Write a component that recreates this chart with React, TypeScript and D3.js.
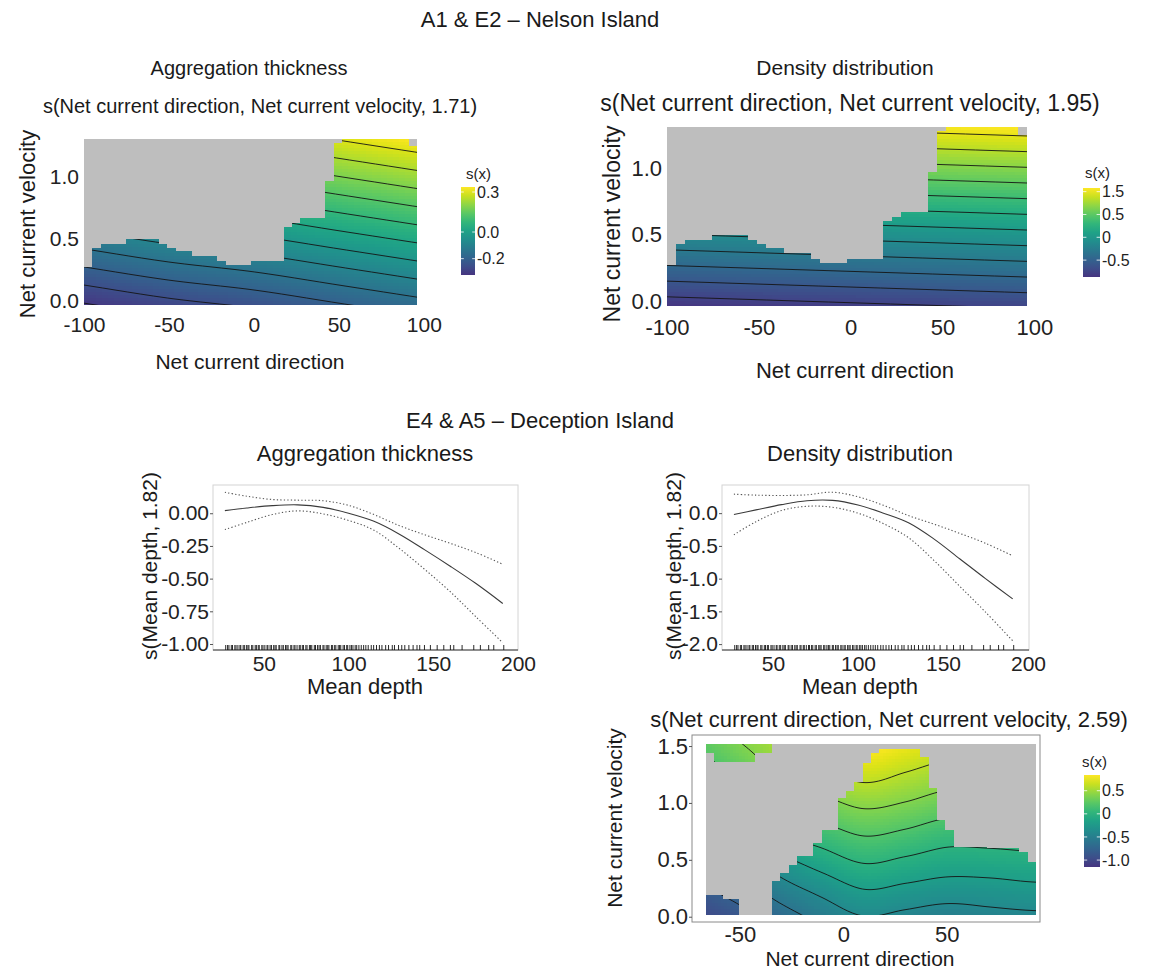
import React, { useEffect, useRef } from "react";
import * as d3 from "d3";

const FONT = "'Liberation Sans', Arial, sans-serif";

// ---------- A1 & E2 – Nelson Island ----------
// fitted surface read at a coarse grid (rows = velocity, cols = direction)
const nelsonGridX = [-100, -50, 0, 50, 100];
const nelsonGridY = [-0.1, 0.3, 0.7, 1.1, 1.5];
const thicknessSurface = [
  [-0.34, -0.3, -0.27, -0.23, -0.19],
  [-0.19, -0.15, -0.12, -0.08, -0.04],
  [-0.04, 0.0, 0.03, 0.07, 0.11],
  [0.11, 0.15, 0.18, 0.22, 0.26],
  [0.26, 0.3, 0.33, 0.37, 0.41],
];
const densitySurface = [
  [-0.94, -0.91, -0.88, -0.85, -0.82],
  [-0.4, -0.37, -0.34, -0.31, -0.28],
  [0.14, 0.17, 0.2, 0.23, 0.26],
  [0.68, 0.71, 0.74, 0.77, 0.8],
  [1.22, 1.25, 1.28, 1.31, 1.34],
];
// highest sampled velocity in each of the 40 direction bins
const nelsonTop = [
  0.27, 0.43, 0.46, 0.46, 0.46, 0.5, 0.5, 0.5, 0.5, 0.46, 0.43, 0.4, 0.4, 0.36,
  0.36, 0.36, 0.32, 0.29, 0.29, 0.29, 0.32, 0.32, 0.32, 0.32, 0.6, 0.63, 0.67,
  0.67, 0.67, 0.97, 1.28, 1.4, 1.4, 1.4, 1.4, 1.4, 1.4, 1.4, 1.4, 1.25,
];
const nelsonDirRange = [-100, 96];
const nelsonVelRange = [-0.035, 1.31];
const thicknessLevels = [-0.31, -0.255, -0.2, -0.145, -0.09, -0.035, 0.02, 0.075, 0.13, 0.185, 0.24, 0.295];
const densityLevels = [-0.918, -0.759, -0.6, -0.441, -0.282, -0.123, 0.036, 0.195, 0.354, 0.513, 0.672, 0.831, 0.99];
const thicknessLegendTicks = [-0.2, 0.0, 0.3];
const thicknessLegendText = ["-0.2", "0.0", "0.3"];
const densityLegendTicks = [-0.5, 0, 0.5, 1.0];
const densityLegendText = ["-0.5", "0", "0.5", "1.5"];

// ---------- E4 & A5 – Deception Island ----------
const depthGrid = [27, 40, 55, 70, 85, 100, 115, 130, 145, 160, 175, 191];
const thickFit = [0.02, 0.04, 0.058, 0.064, 0.045, 0.0, -0.062, -0.16, -0.28, -0.405, -0.536, -0.69];
const thickUpper = [0.16, 0.13, 0.105, 0.1, 0.096, 0.06, -0.01, -0.095, -0.165, -0.23, -0.3, -0.39];
const thickLower = [-0.125, -0.07, -0.01, 0.018, -0.005, -0.055, -0.13, -0.27, -0.43, -0.6, -0.79, -0.99];
const densFit = [-0.02, 0.05, 0.13, 0.19, 0.195, 0.125, 0.0, -0.15, -0.4, -0.7, -1.0, -1.31];
const densUpper = [0.29, 0.275, 0.27, 0.28, 0.32, 0.25, 0.12, -0.04, -0.17, -0.31, -0.46, -0.65];
const densLower = [-0.33, -0.13, 0.04, 0.105, 0.09, 0.0, -0.16, -0.38, -0.73, -1.12, -1.51, -1.95];
const depthRug = [
  27.5, 28.6, 29.4, 30.8, 31.5, 32.9, 33.6, 34.7, 35.9, 36.4, 37.8, 38.5, 39.7,
  40.6, 41.2, 42.8, 43.5, 44.9, 45.6, 46.7, 47.3, 48.8, 49.5, 50.6, 51.9, 52.4,
  53.7, 54.5, 55.8, 56.6, 57.3, 58.9, 59.4, 60.7, 61.5, 62.8, 63.6, 64.3, 65.9,
  66.5, 67.8, 68.4, 69.6, 70.9, 71.5, 72.7, 73.4, 74.8, 75.5, 76.9, 77.6, 78.3,
  79.8, 80.5, 81.7, 82.6, 83.4, 84.9, 85.5, 86.8, 87.7, 88.4, 89.9, 90.6, 91.8,
  92.5, 93.9, 94.7, 95.4, 96.8, 97.6, 98.9, 99.5, 100.8, 101.7, 102.6, 103.9,
  104.8, 106.1, 107.5, 108.9, 110.2, 111.6, 113.4, 114.8, 116.5, 118.2, 119.7,
  121.9, 123.6, 125.8, 127.1, 129.5, 131.4, 133.2, 135.6, 138.1, 140.4, 142.0,
  144.8, 148.3, 152.3, 156.2, 160.1, 162.1, 167.0, 173.9, 177.8, 182.7, 185.7, 191.6,
];

const deceptionGridX = [-70, -50, -30, -10, 10, 30, 50, 70, 90, 110];
const deceptionGridY = [-0.03, 0.23, 0.48, 0.74, 0.99, 1.25, 1.5, 1.75];
const deceptionSurface = [
  [-1.02, -0.9, -0.72, -0.56, -0.43, -0.48, -0.53, -0.49, -0.47, -0.46],
  [-0.85, -0.7, -0.5, -0.346, -0.21, -0.255, -0.3, -0.29, -0.26, -0.25],
  [-0.62, -0.48, -0.27, -0.11, 0.01, -0.04, -0.096, -0.09, -0.07, -0.06],
  [-0.38, -0.2, 0.03, 0.124, 0.225, 0.175, 0.096, 0.1, 0.12, 0.13],
  [-0.1, 0.05, 0.28, 0.34, 0.435, 0.385, 0.305, 0.29, 0.31, 0.32],
  [0.08, 0.22, 0.45, 0.556, 0.66, 0.585, 0.504, 0.48, 0.5, 0.51],
  [0.22, 0.38, 0.55, 0.77, 0.86, 0.78, 0.69, 0.66, 0.68, 0.69],
  [0.35, 0.5, 0.65, 0.96, 1.05, 0.97, 0.87, 0.84, 0.86, 0.87],
];
// sampled region: [direction from, direction to, velocity from, velocity to]
const deceptionCells = [
  [-66.4, -34.5, 1.436, 1.52],
  [-62.4, -42.5, 1.362, 1.436],
  [-66.4, -58.4, 0.015, 0.193],
  [-58.4, -50.4, 0.015, 0.155],
  [-34.5, -30.5, 0.015, 0.31],
  [-30.5, -26.5, 0.015, 0.38],
  [-26.5, -22.5, 0.015, 0.456],
  [-22.5, -14.5, 0.015, 0.53],
  [-14.5, -10.5, 0.015, 0.646],
  [-10.5, -2.6, 0.015, 0.763],
  [-2.6, 1.4, 0.015, 1.04],
  [1.4, 5.4, 0.015, 1.108],
  [5.4, 9.4, 0.015, 1.187],
  [9.4, 13.4, 0.015, 1.348],
  [13.4, 17.4, 0.015, 1.436],
  [17.4, 37.3, 0.015, 1.47],
  [37.3, 41.3, 0.015, 1.406],
  [41.3, 45.3, 0.015, 1.129],
  [45.3, 49.3, 0.015, 0.85],
  [49.3, 53.3, 0.015, 0.763],
  [53.3, 69.3, 0.015, 0.611],
  [69.3, 85.2, 0.015, 0.6],
  [85.2, 89.2, 0.015, 0.57],
  [89.2, 93.2, 0.015, 0.485],
];
const deceptionDirRange = [-66.4, 93.2];
const deceptionVelRange = [0.015, 1.518];
const deceptionLevels = [-1.0, -0.8, -0.6, -0.4, -0.2, 0, 0.2, 0.4, 0.6];
const deceptionLegendTicks = [-1.0, -0.5, 0, 0.5];
const deceptionLegendText = ["-1.0", "-0.5", "0", "0.5"];

const viridis = (t: number) => d3.interpolateViridis(0.15 + 0.85 * Math.max(0, Math.min(1, t)));

function makeSampler(gx: number[], gy: number[], s: number[][]) {
  const nx = gx.length, ny = gy.length;
  const ix = d3.scaleLinear().domain(gx).range(d3.range(nx));
  const iy = d3.scaleLinear().domain(gy).range(d3.range(ny));
  const val = (i: number, j: number) => {
    const ci = Math.max(0, Math.min(nx - 1, i));
    const cj = Math.max(0, Math.min(ny - 1, j));
    let v = s[cj][ci];
    if (i !== ci) {
      const k = i < 0 ? 1 : nx - 2;
      v += ((i - ci) * (s[cj][ci] - s[cj][k])) / (ci - k);
    }
    if (j !== cj) {
      const k = j < 0 ? 1 : ny - 2;
      v += ((j - cj) * (s[cj][ci] - s[k][ci])) / (cj - k);
    }
    return v;
  };
  const cr = (p0: number, p1: number, p2: number, p3: number, t: number) =>
    0.5 * (2 * p1 + (-p0 + p2) * t + (2 * p0 - 5 * p1 + 4 * p2 - p3) * t * t + (-p0 + 3 * p1 - 3 * p2 + p3) * t * t * t);
  return (x: number, y: number) => {
    const fx = ix(x), fy = iy(y);
    const i0 = Math.max(0, Math.min(nx - 2, Math.floor(fx)));
    const j0 = Math.max(0, Math.min(ny - 2, Math.floor(fy)));
    const tx = fx - i0, ty = fy - j0;
    const rows = [-1, 0, 1, 2].map((dj) =>
      cr(val(i0 - 1, j0 + dj), val(i0, j0 + dj), val(i0 + 1, j0 + dj), val(i0 + 2, j0 + dj), tx)
    );
    return cr(rows[0], rows[1], rows[2], rows[3], ty);
  };
}

function drawHeat(svg: any, id: string, o: any) {
  const x = d3.scaleLinear().domain(o.xRange).range([o.left, o.right]);
  const y = d3.scaleLinear().domain(o.yRange).range([o.bottom, o.top]);
  const norm = d3.scaleLinear().domain(o.colorDomain).range([0, 1]);
  const sample = makeSampler(o.gridX, o.gridY, o.surface);

  svg.append("rect")
    .attr("x", o.left).attr("y", o.top)
    .attr("width", o.right - o.left).attr("height", o.bottom - o.top)
    .attr("fill", "#bebebe");

  const clip = svg.append("clipPath").attr("id", id);
  o.spans.forEach(([x0, x1, ylo, yhi]: number[]) => {
    const X0 = Math.round(Math.max(o.left, x(x0)));
    const X1 = Math.round(Math.min(o.right, x(x1)));
    const Y0 = Math.round(Math.max(o.top, y(yhi)));
    const Y1 = Math.round(Math.min(o.bottom, y(ylo)));
    clip.append("rect").attr("x", X0).attr("y", Y0).attr("width", X1 - X0).attr("height", Y1 - Y0);
  });

  const step = 3;
  const cells: { px: number; py: number; v: number }[] = [];
  for (let px = o.left; px < o.right; px += step) {
    for (let py = o.top; py < o.bottom; py += step) {
      cells.push({ px, py, v: sample(x.invert(px + step / 2), y.invert(py + step / 2)) });
    }
  }
  const g = svg.append("g").attr("clip-path", `url(#${id})`);
  g.append("g")
    .attr("shape-rendering", "crispEdges")
    .selectAll("rect")
    .data(cells)
    .join("rect")
    .attr("x", (d: any) => d.px)
    .attr("y", (d: any) => d.py)
    .attr("width", step + 0.6)
    .attr("height", step + 0.6)
    .attr("fill", (d: any) => viridis(norm(d.v)));

  // contour lines
  const m = 6, cs = 2;
  const gx0 = o.left - m, gy0 = o.top - m;
  const nx = Math.ceil((o.right - o.left + 2 * m) / cs);
  const ny = Math.ceil((o.bottom - o.top + 2 * m) / cs);
  const vals: number[] = new Array(nx * ny);
  for (let j = 0; j < ny; j++) {
    for (let i = 0; i < nx; i++) {
      vals[j * nx + i] = sample(x.invert(gx0 + (i + 0.5) * cs), y.invert(gy0 + (j + 0.5) * cs));
    }
  }
  const contours = d3.contours().size([nx, ny]).thresholds(o.levels)(vals);
  const proj = d3.geoTransform({
    point(px: number, py: number) {
      (this as any).stream.point(gx0 + px * cs, gy0 + py * cs);
    },
  });
  g.append("g")
    .selectAll("path")
    .data(contours)
    .join("path")
    .attr("d", d3.geoPath(proj) as any)
    .attr("fill", "none")
    .attr("stroke", "#151515")
    .attr("stroke-width", 0.9);

  return { x, y };
}

function drawLegend(svg: any, id: string, o: any) {
  const grad = svg.append("defs").append("linearGradient")
    .attr("id", id).attr("x1", 0).attr("x2", 0).attr("y1", 1).attr("y2", 0);
  d3.range(0, 1.0001, 0.1).forEach((t) => {
    grad.append("stop").attr("offset", t).attr("stop-color", viridis(t));
  });
  svg.append("rect")
    .attr("x", o.left).attr("y", o.top)
    .attr("width", o.width).attr("height", o.bottom - o.top)
    .attr("fill", `url(#${id})`);
  const s = d3.scaleLinear().domain(o.domain).range([o.bottom, o.top]);
  o.ticks.forEach((v: number, i: number) => {
    const yy = s(v);
    const tl = o.width / 5;
    svg.append("line").attr("x1", o.left).attr("x2", o.left + tl).attr("y1", yy).attr("y2", yy)
      .attr("stroke", "#fff").attr("stroke-width", 0.8);
    svg.append("line").attr("x1", o.left + o.width - tl).attr("x2", o.left + o.width).attr("y1", yy).attr("y2", yy)
      .attr("stroke", "#fff").attr("stroke-width", 0.8);
    svg.append("text")
      .attr("x", o.left + o.width + 2).attr("y", yy).attr("dy", "0.35em")
      .attr("font-family", FONT).attr("font-size", 16).attr("fill", "#222")
      .text(o.labels[i]);
  });
  svg.append("text")
    .attr("x", o.titleX).attr("y", o.titleY)
    .attr("font-family", FONT).attr("font-size", 15).attr("fill", "#222")
    .text("s(x)");
}

function styleAxis(g: any, size: number) {
  g.select(".domain").remove();
  g.attr("font-family", FONT).attr("font-size", size);
  g.selectAll(".tick line").attr("stroke", "#555");
  g.selectAll(".tick text").attr("fill", "#222");
}

function drawGam(svg: any, o: any) {
  const x = d3.scaleLinear().domain(o.xDomain).range([o.left, o.right]);
  const y = d3.scaleLinear().domain(o.yDomain).range([o.bottom, o.top]);
  svg.append("rect")
    .attr("x", o.left).attr("y", o.top)
    .attr("width", o.right - o.left).attr("height", o.bottom - o.top)
    .attr("fill", "none").attr("stroke", "#d4d4d4");
  svg.append("line")
    .attr("x1", o.left).attr("x2", o.right).attr("y1", o.bottom).attr("y2", o.bottom)
    .attr("stroke", "#333").attr("stroke-width", 1);

  const line = (vals: number[]) =>
    d3.line<number>().x((_, i) => x(depthGrid[i])).y((d) => y(d)).curve(d3.curveCatmullRom)(vals);
  [o.upper, o.lower].forEach((vals: number[]) => {
    svg.append("path").attr("d", line(vals)).attr("fill", "none")
      .attr("stroke", "#555").attr("stroke-width", 1.1).attr("stroke-dasharray", "1.3,2.2");
  });
  svg.append("path").attr("d", line(o.fit)).attr("fill", "none")
    .attr("stroke", "#3a3a3a").attr("stroke-width", 1.1);

  svg.append("g").selectAll("line").data(depthRug).join("line")
    .attr("x1", (d: number) => x(d)).attr("x2", (d: number) => x(d))
    .attr("y1", o.bottom).attr("y2", o.bottom - 5)
    .attr("stroke", "#111").attr("stroke-width", 0.9);

  const ya = svg.append("g").attr("transform", `translate(${o.left},0)`)
    .call(d3.axisLeft(y).tickValues(o.yTicks).tickFormat((d: any) => d.toFixed(o.yDigits)).tickSize(3).tickPadding(1));
  styleAxis(ya, 21);
  const xa = svg.append("g").attr("transform", `translate(0,${o.bottom})`)
    .call(d3.axisBottom(x).tickValues([50, 100, 150, 200]).tickFormat((d: any) => String(d)).tickSize(0).tickPadding(6));
  styleAxis(xa, 21);
}

export default function App() {
  const ref = useRef<SVGSVGElement>(null);

  useEffect(() => {
    const svg = d3.select(ref.current);
    svg.selectAll("*").remove();

    const text = (t: string, x: number, y: number, size: number, anchor = "middle", rot = false) => {
      const el = svg.append("text")
        .attr("font-family", FONT).attr("font-size", size).attr("fill", "#1a1a1a")
        .attr("text-anchor", anchor).text(t);
      if (rot) el.attr("transform", `translate(${x},${y}) rotate(-90)`);
      else el.attr("x", x).attr("y", y);
    };

    // ---------- Nelson Island ----------
    text("A1 & E2 \u2013 Nelson Island", 540, 27, 22);

    const nelsonSpans = nelsonTop.map((top, i) => {
      const w = (nelsonDirRange[1] - nelsonDirRange[0]) / nelsonTop.length;
      return [nelsonDirRange[0] + i * w, nelsonDirRange[0] + (i + 1) * w, nelsonVelRange[0], top];
    });

    // aggregation thickness
    const a = drawHeat(svg, "clipThick", {
      left: 84, right: 417, top: 139, bottom: 305,
      xRange: nelsonDirRange, yRange: nelsonVelRange,
      gridX: nelsonGridX, gridY: nelsonGridY, surface: thicknessSurface,
      spans: nelsonSpans, colorDomain: [-0.3225, 0.3375], levels: thicknessLevels,
    });
    styleAxis(svg.append("g").attr("transform", "translate(84,0)")
      .call(d3.axisLeft(a.y).tickValues([0, 0.5, 1.0]).tickFormat((d: any) => d.toFixed(1)).tickSize(0).tickPadding(5)), 21);
    styleAxis(svg.append("g").attr("transform", "translate(0,305)")
      .call(d3.axisBottom(a.x).tickValues([-100, -50, 0, 50, 100]).tickFormat((d: any) => String(d)).tickSize(0).tickPadding(12)), 21);
    text("Aggregation thickness", 249, 75, 20);
    text("s(Net current direction, Net current velocity, 1.71)", 260, 113, 20);
    text("Net current direction", 250, 369, 21);
    text("Net current velocity", 35, 224, 22, "middle", true);
    drawLegend(svg, "legThick", {
      left: 461, width: 14, top: 187, bottom: 275,
      domain: [-0.3225, 0.3375], ticks: thicknessLegendTicks, labels: thicknessLegendText,
      titleX: 466, titleY: 179,
    });

    // density distribution
    const b = drawHeat(svg, "clipDens", {
      left: 667, right: 1027, top: 127, bottom: 306,
      xRange: nelsonDirRange, yRange: nelsonVelRange,
      gridX: nelsonGridX, gridY: nelsonGridY, surface: densitySurface,
      spans: nelsonSpans, colorDomain: [-0.87, 1.08], levels: densityLevels,
    });
    styleAxis(svg.append("g").attr("transform", "translate(667,0)")
      .call(d3.axisLeft(b.y).tickValues([0, 0.5, 1.0]).tickFormat((d: any) => d.toFixed(1)).tickSize(0).tickPadding(5)), 22);
    styleAxis(svg.append("g").attr("transform", "translate(0,306)")
      .call(d3.axisBottom(b.x).tickValues([-100, -50, 0, 50, 100]).tickFormat((d: any) => String(d)).tickSize(0).tickPadding(13)), 22);
    text("Density distribution", 845, 75, 21);
    text("s(Net current direction, Net current velocity, 1.95)", 850, 111, 23);
    text("Net current direction", 855, 378, 22);
    text("Net current velocity", 620, 224, 23, "middle", true);
    drawLegend(svg, "legDens", {
      left: 1083, width: 17, top: 188, bottom: 277,
      domain: [-0.87, 1.08], ticks: densityLegendTicks, labels: densityLegendText,
      titleX: 1085, titleY: 178,
    });

    // ---------- Deception Island ----------
    text("E4 & A5 \u2013 Deception Island", 540, 428, 22);

    text("Aggregation thickness", 365, 461, 22);
    drawGam(svg, {
      left: 213, right: 518, top: 485, bottom: 650,
      xDomain: [20, 200], yDomain: [-1.046, 0.216],
      yTicks: [0, -0.25, -0.5, -0.75, -1.0], yDigits: 2,
      fit: thickFit, upper: thickUpper, lower: thickLower,
    });
    text("Mean depth", 365, 694, 22);
    text("s(Mean depth, 1.82)", 157, 566, 21, "middle", true);

    text("Density distribution", 860, 461, 22);
    drawGam(svg, {
      left: 722, right: 1029, top: 485, bottom: 650,
      xDomain: [20, 200.6], yDomain: [-2.09, 0.43],
      yTicks: [0, -0.5, -1.0, -1.5, -2.0], yDigits: 1,
      fit: densFit, upper: densUpper, lower: densLower,
    });
    text("Mean depth", 860, 694, 22);
    text("s(Mean depth, 1.82)", 681, 566, 21, "middle", true);

    // bottom-right surface
    svg.append("rect").attr("x", 692).attr("y", 735).attr("width", 348).attr("height", 187)
      .attr("fill", "#fff").attr("stroke", "#8a8a8a");
    const c = drawHeat(svg, "clipDec", {
      left: 706, right: 1036, top: 744, bottom: 915,
      xRange: deceptionDirRange, yRange: deceptionVelRange,
      gridX: deceptionGridX, gridY: deceptionGridY, surface: deceptionSurface,
      spans: deceptionCells, colorDomain: [-1.15, 0.84], levels: deceptionLevels,
    });
    styleAxis(svg.append("g").attr("transform", "translate(692,0)")
      .call(d3.axisLeft(c.y).tickValues([0, 0.5, 1.0, 1.5]).tickFormat((d: any) => d.toFixed(1)).tickSize(3).tickPadding(1)), 22);
    styleAxis(svg.append("g").attr("transform", "translate(0,922)")
      .call(d3.axisBottom(c.x).tickValues([-50, 0, 50]).tickFormat((d: any) => String(d)).tickSize(0).tickPadding(4)), 22);
    text("s(Net current direction, Net current velocity, 2.59)", 889, 727, 22);
    text("Net current direction", 860, 966, 21);
    text("Net current velocity", 622, 818, 21, "middle", true);
    drawLegend(svg, "legDec", {
      left: 1084, width: 16, top: 775, bottom: 867,
      domain: [-1.15, 0.84], ticks: deceptionLegendTicks, labels: deceptionLegendText,
      titleX: 1082, titleY: 767,
    });
  }, []);

  return (
    <div style={{ position: "absolute", left: 0, top: 0 }}>
      <svg ref={ref} width={1153} height={973} style={{ display: "block", background: "#fff" }} />
    </div>
  );
}
